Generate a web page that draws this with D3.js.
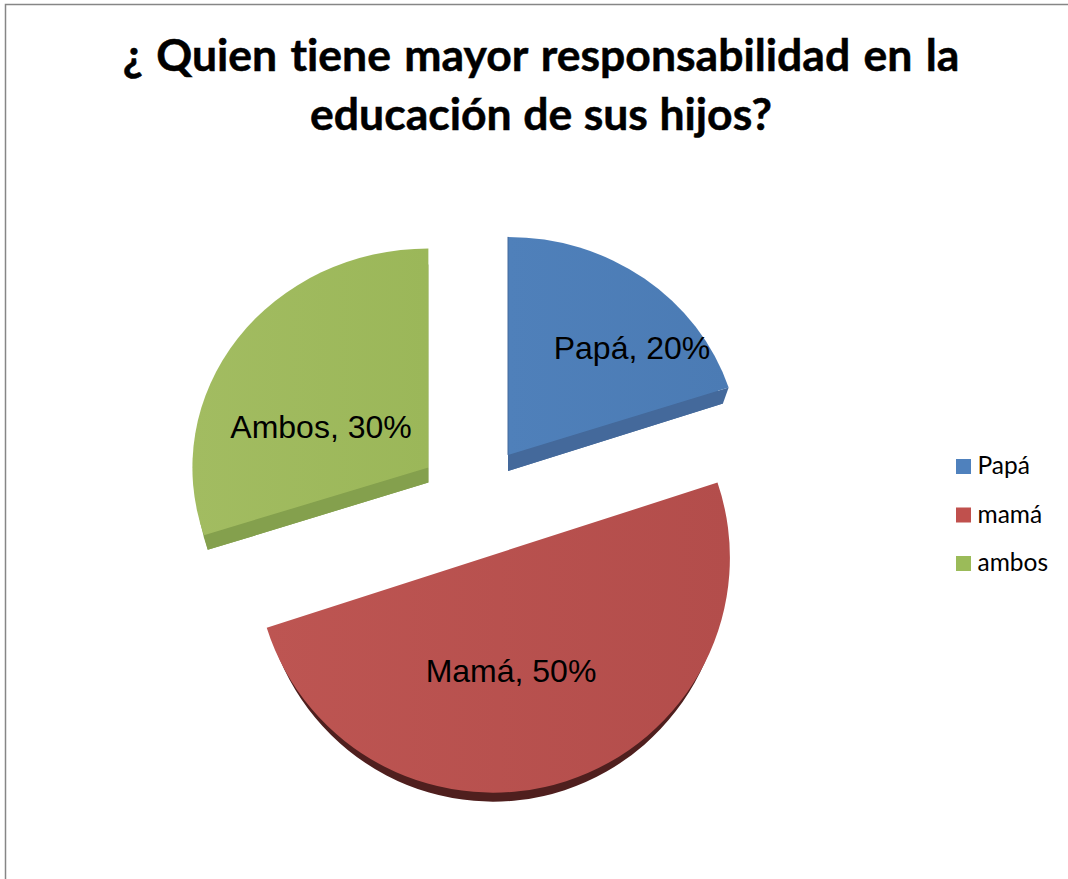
<!DOCTYPE html>
<html>
<head>
<meta charset="utf-8">
<script src="https://cdn.jsdelivr.net/npm/d3@7"></script>
<style>
  html, body { margin: 0; padding: 0; background: #fff; overflow: hidden; }
</style>
</head>
<body>
<script>
// chart data
var categories = ["Papá", "mamá", "ambos"];
var labelNames = ["Papá", "Mamá", "Ambos"];
var values = [20, 50, 30];
var titleLines = ["¿ Quien tiene mayor responsabilidad en la", "educación de sus hijos?"];

// colours
var topColors = ["#4f80ba", "#bd5552", "#a2bc61"];
var topColorsEnd = ["#4b7bb4", "#b34d4b", "#9bb759"];
var sideColors = ["#44699b", "#4f1f1e", "#84a04d"];
var legendColors = ["#4f81bd", "#c0504d", "#9bbb59"];

// layout of the exploded pie, the perspective makes every slice a bit different
var svgWidth = 1068, svgHeight = 879;
var center = {x: 474.5, y: 501};
var explode = 57;
var radiusX = [232, 237, 236];
var radiusY = [218, 235, 219];
var depth = [16, 9, 15];
var sideRadiusX = [226, 232, 232];
var sideRadiusY = [218, 235, 218];
var labelAt = [[632, 359], [511, 682], [321, 438]];
var titleWordSpacing = [2.5, 0.7];

var svg = d3.select("body").append("svg")
  .attr("width", svgWidth)
  .attr("height", svgHeight);

// chart frame
svg.append("rect")
  .attr("x", 5.5).attr("y", 4.5)
  .attr("width", svgWidth + 20).attr("height", svgHeight + 20)
  .attr("fill", "#fff")
  .attr("stroke", "#868686")
  .attr("stroke-width", 1.5);

// title
svg.append("g").selectAll("text")
  .data(titleLines)
  .enter().append("text")
  .attr("x", 541)
  .attr("y", function (d, i) { return 71 + i * 59; })
  .attr("text-anchor", "middle")
  .style("font-family", "Lato")
  .style("font-weight", "700")
  .style("font-size", "44.5px")
  .style("font-variant-ligatures", "none")
  .style("word-spacing", function (d, i) { return titleWordSpacing[i] + "px"; })
  .attr("fill", "#000")
  .attr("stroke", "#000")
  .attr("stroke-width", 0.5)
  .text(function (d) { return d; });

var pie = d3.pie().sort(null).value(function (d) { return d; });
var slices = pie(values);
var arc = d3.arc().innerRadius(0).outerRadius(1);
var edge = d3.line();

function apexOf(d) {
  var mid = (d.startAngle + d.endAngle) / 2;
  return {x: center.x + explode * Math.sin(mid), y: center.y - explode * Math.cos(mid)};
}

function rimPoint(a, angle, rx, ry, dy) {
  return [a.x + rx * Math.sin(angle), a.y + dy - ry * Math.cos(angle)];
}

// soft shading on the top of the slices
var defs = svg.append("defs");
topColors.forEach(function (c, i) {
  var g = defs.append("linearGradient").attr("id", "top" + i);
  g.append("stop").attr("offset", "0%").attr("stop-color", c);
  g.append("stop").attr("offset", "100%").attr("stop-color", topColorsEnd[i]);
});

var pieGroup = svg.append("g");

slices.forEach(function (d, i) {
  var a = apexOf(d);

  // thickness under the slice
  pieGroup.append("path")
    .attr("d", arc(d))
    .attr("transform", `translate(${a.x}, ${a.y + depth[i]}) scale(${sideRadiusX[i]}, ${sideRadiusY[i]})`)
    .attr("fill", sideColors[i]);

  // cut face, only on the edges that look to the viewer
  var faceAngle = null;
  if (Math.cos(d.endAngle) > 0 && d.endAngle < Math.PI) faceAngle = d.endAngle;
  if (Math.cos(d.startAngle) < 0 && d.startAngle > Math.PI) faceAngle = d.startAngle;
  if (faceAngle !== null) {
    pieGroup.append("path")
      .attr("d", edge([
        [a.x, a.y],
        rimPoint(a, faceAngle, radiusX[i], radiusY[i], 0),
        rimPoint(a, faceAngle, sideRadiusX[i], sideRadiusY[i], depth[i]),
        [a.x, a.y + depth[i]]
      ]) + "Z")
      .attr("fill", sideColors[i]);
  }
});

slices.forEach(function (d, i) {
  var a = apexOf(d);
  pieGroup.append("path")
    .attr("d", arc(d))
    .attr("transform", `translate(${a.x}, ${a.y}) scale(${radiusX[i]}, ${radiusY[i]})`)
    .attr("fill", "url(#top" + i + ")");
});

// faint dark edge on the left of the first slice
var firstApex = apexOf(slices[0]);
pieGroup.append("path")
  .attr("d", edge([[firstApex.x, firstApex.y], rimPoint(firstApex, slices[0].startAngle, radiusX[0], radiusY[0], 0)]))
  .attr("stroke", sideColors[0])
  .attr("stroke-width", 1)
  .attr("fill", "none");

// data labels
svg.append("g").selectAll("text")
  .data(slices)
  .enter().append("text")
  .attr("x", function (d, i) { return labelAt[i][0]; })
  .attr("y", function (d, i) { return labelAt[i][1]; })
  .attr("text-anchor", "middle")
  .style("font-family", "Liberation Sans")
  .style("font-size", "32px")
  .attr("fill", "#000")
  .text(function (d, i) { return labelNames[i] + ", " + d.data + "%"; });

// legend
var legendY = d3.scalePoint().domain(categories).range([466.5, 563.5]);
var legendColor = d3.scaleOrdinal().domain(categories).range(legendColors);

var legend = svg.append("g").selectAll("g")
  .data(categories)
  .enter().append("g")
  .attr("transform", function (d) { return `translate(956, ${legendY(d)})`; });

legend.append("rect")
  .attr("x", 0).attr("y", -7.5)
  .attr("width", 15).attr("height", 15)
  .attr("fill", function (d) { return legendColor(d); });

legend.append("text")
  .attr("x", 21.5).attr("y", 7.5)
  .style("font-family", "Lato")
  .style("font-size", "24.5px")
  .attr("fill", "#000")
  .text(function (d) { return d; });
</script>
</body>
</html>
